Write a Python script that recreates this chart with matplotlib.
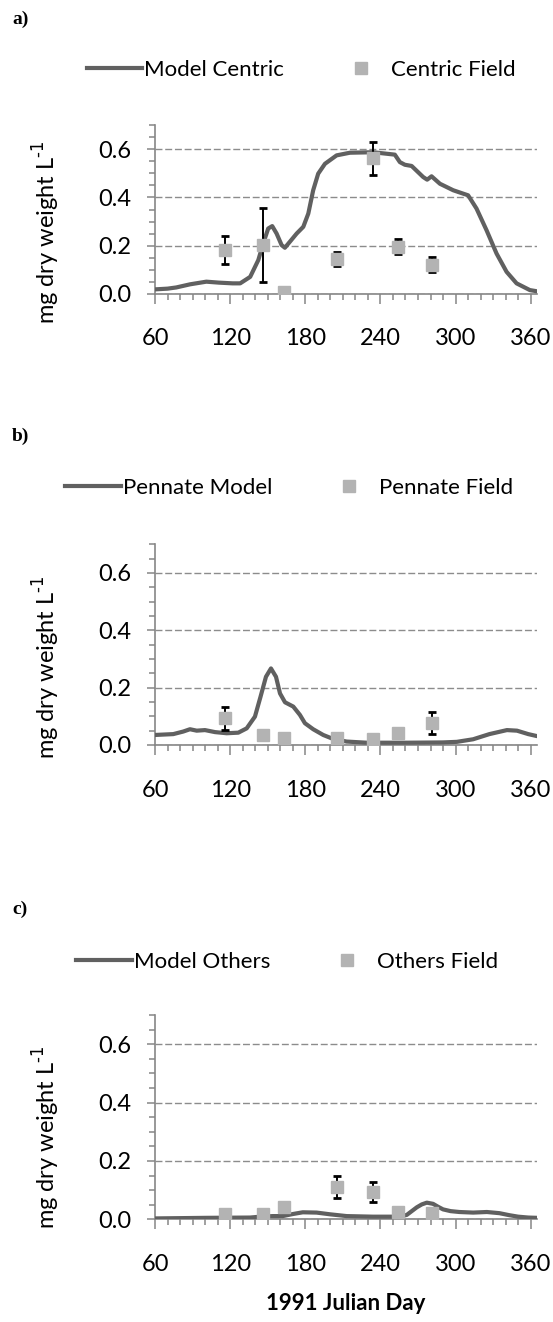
import matplotlib
matplotlib.use("Agg")
import matplotlib.pyplot as plt
from matplotlib.ticker import MultipleLocator
from matplotlib.lines import Line2D

# ---------------- data ----------------
field_days = [116, 146, 163, 205, 234, 254, 281]

# Panel a: centric
centric_model_day = [60, 70, 77, 88, 101, 111, 122, 128, 136, 142.5, 146.4, 150.4, 153.6, 157.1,
                     161.1, 163.7, 167.7, 173.1, 178.4, 182.4, 186.3, 190.3, 195.7, 205, 215.6,
                     234.2, 251.5, 255.5, 259.5, 264.9, 274.1, 277.3, 280.8, 287.5, 298.1, 306,
                     310, 316.7, 324.7, 332.7, 340.7, 348.7, 359.3, 365]
centric_model_val = [0.018, 0.021, 0.026, 0.039, 0.050, 0.046, 0.043, 0.043, 0.070, 0.140,
                     0.209, 0.271, 0.281, 0.250, 0.202, 0.191, 0.216, 0.250, 0.278, 0.333,
                     0.430, 0.499, 0.540, 0.575, 0.586, 0.588, 0.578, 0.547, 0.536, 0.531,
                     0.485, 0.474, 0.488, 0.457, 0.430, 0.416, 0.409, 0.354, 0.264, 0.167,
                     0.091, 0.043, 0.015, 0.010]
centric_field_val = [0.18, 0.203, 0.005, 0.145, 0.562, 0.196, 0.12]
centric_field_err = [0.058, 0.153, None, 0.03, 0.067, 0.033, 0.031]

# Panel b: pennate
pennate_model_day = [60, 74.6, 82.6, 87.9, 93.3, 99.9, 107.9, 117.2, 126.5, 133.2, 139.8,
                     144.3, 148.6, 152.6, 156.6, 159.8, 163.8, 170.4, 175.7, 179.7, 186.3,
                     194.3, 202.3, 213, 229, 261, 290, 301, 314, 327, 341, 349, 358, 365]
pennate_model_val = [0.035, 0.038, 0.047, 0.055, 0.050, 0.052, 0.045, 0.041, 0.043, 0.058,
                     0.099, 0.169, 0.238, 0.267, 0.238, 0.180, 0.149, 0.134, 0.105, 0.076,
                     0.055, 0.035, 0.021, 0.012, 0.008, 0.008, 0.009, 0.011, 0.020, 0.038,
                     0.052, 0.050, 0.038, 0.031]
pennate_field_val = [0.093, 0.034, 0.026, 0.026, 0.020, 0.041, 0.078]
pennate_field_err = [0.04, None, None, None, None, None, 0.038]

# Panel c: others
others_model_day = [60, 101, 136, 144, 154, 162, 170, 178, 189, 200, 213, 234, 255, 261, 265,
                    269, 273, 277, 282, 286, 290, 296, 303, 314, 325, 335, 343, 350, 358, 365]
others_model_val = [0.003, 0.005, 0.006, 0.009, 0.011, 0.011, 0.018, 0.024, 0.023, 0.017,
                    0.011, 0.009, 0.009, 0.015, 0.028, 0.041, 0.051, 0.057, 0.053, 0.043,
                    0.034, 0.028, 0.025, 0.023, 0.025, 0.021, 0.014, 0.009, 0.006, 0.005]
others_field_val = [0.018, 0.017, 0.041, 0.112, 0.093, 0.025, 0.020]
others_field_err = [None, None, None, 0.038, 0.035, None, None]

panels = [
    ("a)", "Model Centric", "Centric Field", centric_model_day, centric_model_val,
     centric_field_val, centric_field_err),
    ("b)", "Pennate Model", "Pennate Field", pennate_model_day, pennate_model_val,
     pennate_field_val, pennate_field_err),
    ("c)", "Model Others", "Others Field", others_model_day, others_model_val,
     others_field_val, others_field_err),
]

# ---------------- style ----------------
W, H = 553, 1322
FONT = ["Lato", "DejaVu Sans"]
plt.rcParams["font.family"] = FONT
LINE_C = "#606060"
MARK_C = "#b3b3b3"
AX_C = "#868686"
GRID_C = "#8c8c8c"
FS = 16
TFS = 17

# pixel boxes: (left, top, right, bottom)
boxes = [(155, 125.3, 537, 293.7), (155, 544.3, 537, 745.0), (155, 1015.0, 537, 1219.3)]
letter_y = [19, 436, 909]
legend_y = [70, 488, 962]
legend_x = [301, 289, 287]
ylabel_center = [232, 667, 1137]

fig = plt.figure(figsize=(W / 100, H / 100), dpi=100)

for i, (letter, mlabel, flabel, mday, mval, fval, ferr) in enumerate(panels):
    l, t, r, b = boxes[i]
    ax = fig.add_axes([l / W, 1 - b / H, (r - l) / W, (b - t) / H])
    ax.set_xlim(60, 365)
    ax.set_ylim(0, 0.7)

    for s in ["top", "right"]:
        ax.spines[s].set_visible(False)
    for s in ["left", "bottom"]:
        ax.spines[s].set_color(AX_C)
        ax.spines[s].set_linewidth(1.2)

    ax.yaxis.set_minor_locator(MultipleLocator(0.05))
    ax.xaxis.set_minor_locator(MultipleLocator(10))
    ax.set_yticks([0.0, 0.2, 0.4, 0.6])
    ax.set_yticklabels(["0.0", "0.2", "0.4", "0.6"])
    ax.set_xticks([60, 120, 180, 240, 300, 360])

    ax.tick_params(axis="y", which="major", length=6, width=1.1, color=AX_C,
                   labelsize=TFS, pad=11)
    ax.tick_params(axis="y", which="minor", length=4.5, width=1.1, color=AX_C)
    ax.tick_params(axis="x", which="major", length=7, width=1.1, color=AX_C,
                   labelsize=TFS, pad=18)
    ax.tick_params(axis="x", which="minor", length=4, width=1.1, color=AX_C)

    ax.grid(axis="y", which="major", color=GRID_C, linestyle=(0, (5, 2)), linewidth=1.0)
    ax.set_axisbelow(True)

    ax.plot(mday, mval, color=LINE_C, linewidth=3.0, solid_capstyle="round",
            solid_joinstyle="round", zorder=3)

    for d, v, e in zip(field_days, fval, ferr):
        if e is not None:
            ax.errorbar([d], [v], yerr=[e], fmt="none", ecolor="black", elinewidth=1.4,
                        capsize=3, capthick=2.0, zorder=4)
    ax.plot(field_days, fval, linestyle="none", marker="s", markersize=8.5,
            markerfacecolor=MARK_C, markeredgecolor=MARK_C, zorder=5)

    ax.set_ylabel(r"mg dry weight L$^{\text{-1}}$", fontsize=TFS)
    ax.yaxis.set_label_coords((62 - l) / (r - l), (b - ylabel_center[i]) / (b - t))

    fig.text(12 / W, 1 - letter_y[i] / H, letter, fontsize=14, fontweight="bold",
             family=["Liberation Serif", "DejaVu Serif"], va="center", ha="left")

    handles = [Line2D([], [], color=LINE_C, linewidth=3.0),
               Line2D([], [], linestyle="none", marker="s", markersize=8.5,
                      markerfacecolor=MARK_C, markeredgecolor=MARK_C)]
    fig.legend(handles, [mlabel, flabel], loc="center", ncol=2,
               bbox_to_anchor=(legend_x[i] / W, 1 - legend_y[i] / H),
               frameon=False, fontsize=FS, handlelength=2.5, handletextpad=0.1,
               columnspacing=2.2, borderaxespad=0, borderpad=0)

    if i == 2:
        ax.set_xlabel("1991 Julian Day", fontsize=FS, fontweight="bold", labelpad=13)

fig.savefig("out.png", dpi=100)
